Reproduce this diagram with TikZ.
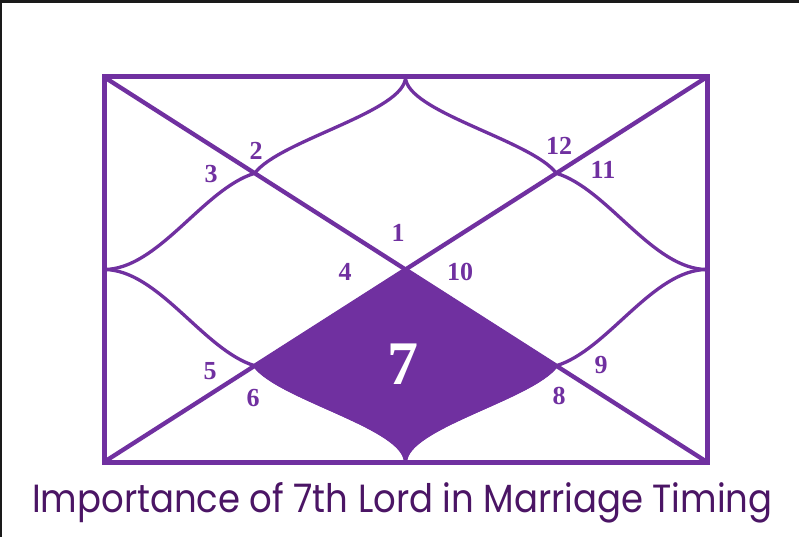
\documentclass[tikz,border=0pt]{standalone}
\usepackage{fontspec}
\setmainfont{Liberation Serif}
\newfontfamily\titlefont{Poppins}
\definecolor{chartpurple}{HTML}{7030A0}
\definecolor{titlepurple}{HTML}{4B1565}
\definecolor{edgegray}{HTML}{1A1A1A}
\tikzset{
  frame/.style={draw=chartpurple, line width=5pt},
  diag/.style={draw=chartpurple, line width=4.3pt},
  curve/.style={draw=chartpurple, line width=3.3pt},
  house/.style={text=chartpurple, font=\fontsize{26}{26}\selectfont\bfseries, inner sep=0pt},
  seventh/.style={text=white, font=\fontsize{62}{62}\selectfont\bfseries, inner sep=0pt},
}
\begin{document}
\begin{tikzpicture}[x=1pt,y=-1pt]
\useasboundingbox (0,0) rectangle (799,537);
\fill[white] (0,0) rectangle (799,537);
\fill[edgegray] (0,0) rectangle (799,2.7);
\fill[edgegray] (0,0) rectangle (1.8,537);

\begin{scope}[shift={(405.5,269.5)}, x=301.5pt, y=192.5pt]
  \coordinate (C) at (0,0);
  \coordinate (T) at (0,1);
  \coordinate (B) at (0,-1);
  \coordinate (L) at (-1,0);
  \coordinate (R) at (1,0);
  \coordinate (TL) at (-1,1);
  \coordinate (TR) at (1,1);
  \coordinate (BL) at (-1,-1);
  \coordinate (BR) at (1,-1);
  \coordinate (MTL) at (-0.5,0.5);
  \coordinate (MTR) at (0.5,0.5);
  \coordinate (MBL) at (-0.5,-0.5);
  \coordinate (MBR) at (0.5,-0.5);

  % filled 7th house
  \fill[chartpurple, draw=chartpurple, line width=3.3pt, line join=round]
    (C) -- (MBL) .. controls (-0.42,-0.67) and (0,-0.82) .. (B)
        .. controls (0,-0.82) and (0.42,-0.67) .. (MBR) -- cycle;

  % curved lines
  \draw[curve] (T) .. controls (0,0.82) and (-0.42,0.67) .. (MTL)
                   .. controls (-0.67,0.42) and (-0.82,0) .. (L);
  \draw[curve] (T) .. controls (0,0.82) and (0.42,0.67) .. (MTR)
                   .. controls (0.67,0.42) and (0.82,0) .. (R);
  \draw[curve] (B) .. controls (0,-0.82) and (-0.42,-0.67) .. (MBL)
                   .. controls (-0.67,-0.42) and (-0.82,0) .. (L);
  \draw[curve] (B) .. controls (0,-0.82) and (0.42,-0.67) .. (MBR)
                   .. controls (0.67,-0.42) and (0.82,0) .. (R);

  % diagonals
  \draw[diag] (TL) -- (BR);
  \draw[diag] (TR) -- (BL);

  % frame
  \draw[frame] (TL) rectangle (BR);
\end{scope}

% house numbers
\node[house] (h1) at (398,233) {1};
\node[house] (h2) at (256,151) {2};
\node[house] (h3) at (211,174) {3};
\node[house] (h4) at (345,272) {4};
\node[house] (h10) at (460,272) {10};
\node[house] (h12) at (559,146) {12};
\node[house] (h11) at (603,170) {11};
\node[house] (h5) at (210,371) {5};
\node[house] (h6) at (253,398) {6};
\node[house] (h8) at (559,396) {8};
\node[house] (h9) at (601,365) {9};
\node[seventh] (h7) at (403,364) {7};

% title
\node[anchor=base west, inner sep=0pt] (title) at (32,512)
  {\resizebox{740pt}{30pt}{\titlefont\color{titlepurple}Importance of 7th Lord in Marriage Timing}};
\end{tikzpicture}
\end{document}
